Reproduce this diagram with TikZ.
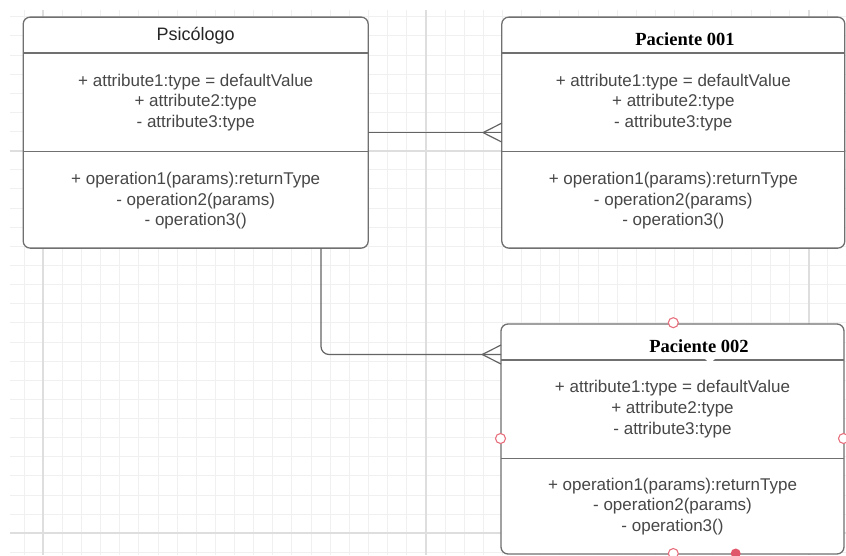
\documentclass[tikz,border=0pt]{standalone}
\usepackage{fontspec}
\setmainfont{Liberation Sans}
\newfontfamily\serifbf{Liberation Serif}
\usetikzlibrary{calc}
\definecolor{gridminor}{HTML}{F0F0F0}
\definecolor{gridmajor}{HTML}{DEDEDE}
\definecolor{boxline}{HTML}{707070}
\definecolor{linkline}{HTML}{646464}
\definecolor{txtgray}{HTML}{474747}
\definecolor{handlered}{HTML}{E8707E}
\definecolor{handlefill}{HTML}{E0566A}
\begin{document}
\begin{tikzpicture}[x=1pt,y=-1pt,
  classbox/.style={draw=boxline, line width=1.3pt, fill=white, rounded corners=7pt, inner sep=0pt, outer sep=0pt},
  divider/.style={draw=boxline, line width=1.3pt},
  link/.style={draw=linkline, line width=1.2pt},
  member/.style={font=\fontsize{17}{20.7}\selectfont, text=txtgray, align=center, inner sep=0pt, anchor=base},
  sanstitle/.style={font=\fontsize{18}{21}\selectfont, text=black!85, inner sep=0pt, anchor=base},
  seriftitle/.style={font=\serifbf\bfseries\fontsize{18.5}{22}\selectfont, text=black, inner sep=0pt, anchor=base},
  handle/.style={circle, draw=handlered, line width=1.1pt, fill=white, minimum size=10pt, inner sep=0pt},
  handlefilled/.style={circle, fill=handlefill, minimum size=10pt, inner sep=0pt},
]
\useasboundingbox (0,0) rectangle (846,555);
\fill[white] (0,0) rectangle (846,555);
% grid
\begin{scope}
\clip (10,10) rectangle (846,555);
\foreach \k in {-2,...,42} {\draw[gridminor, line width=1pt] ({43.3+\k*19.13},0) -- ({43.3+\k*19.13},555);}
\foreach \k in {-28,...,2} {\draw[gridminor, line width=1pt] (0,{533.3+\k*19.13}) -- (846,{533.3+\k*19.13});}
\foreach \k in {0,20,40} {\draw[gridmajor, line width=2pt] ({43.3+\k*19.13},0) -- ({43.3+\k*19.13},555);}
\foreach \k in {0,-20} {\draw[gridmajor, line width=2pt] (0,{533.3+\k*19.13}) -- (846,{533.3+\k*19.13});}
\end{scope}
% boxes
\node[classbox, minimum width=345pt, minimum height=231pt] (psi) at (195.7,132.6) {};
\node[classbox, minimum width=343pt, minimum height=231pt] (p1) at (673.3,132.6) {};
\node[classbox, minimum width=343pt, minimum height=230pt] (p2) at (672.5,439) {};
\foreach \b in {psi,p1,p2} {
  \draw[divider] ([yshift=-36pt]\b.north west) -- ([yshift=-36pt]\b.north east);
  \draw[divider] ([yshift=-134.5pt]\b.north west) -- ([yshift=-134.5pt]\b.north east);
}
% small notch under the Paciente 002 title
\fill[white] (704,358.2) -- (716,358.2) -- (712,361.5) -- (708,361.5) -- cycle;
% connectors
\draw[link] (psi.east) -- (p1.west);
\draw[link] ($(p1.west)+(-18.7,0)$) -- ($(p1.west)+(0,-9.5)$);
\draw[link] ($(p1.west)+(-18.7,0)$) -- ($(p1.west)+(0,9.5)$);
\coordinate (bend) at (321,354.5);
\draw[link, rounded corners=8pt] (bend |- psi.south) -- (bend) -- (bend -| p2.west);
\coordinate (p2in) at (bend -| p2.west);
\draw[link] ($(p2in)+(-18.7,0)$) -- ($(p2in)+(0,-9.5)$);
\draw[link] ($(p2in)+(-18.7,0)$) -- ($(p2in)+(0,9.5)$);
% texts (base anchor = baseline of the last line)
\node[sanstitle] (psiT) at (195.7,40) {Psicólogo};
\node[member] (psiA) at (195.7,127.4) {+ attribute1:type = defaultValue\\+ attribute2:type\\- attribute3:type};
\node[member] (psiO) at (195.7,225.7) {+ operation1(params):returnType\\- operation2(params)\\- operation3()};
\node[seriftitle] (p1T) at (685,45.7) {Paciente 001};
\node[member] (p1A) at (673.3,127.4) {+ attribute1:type = defaultValue\\+ attribute2:type\\- attribute3:type};
\node[member] (p1O) at (673.3,225.7) {+ operation1(params):returnType\\- operation2(params)\\- operation3()};
\node[seriftitle] (p2T) at (699,352.3) {Paciente 002};
\node[member] (p2A) at (672.5,434.1) {+ attribute1:type = defaultValue\\+ attribute2:type\\- attribute3:type};
\node[member] (p2O) at (672.5,531.4) {+ operation1(params):returnType\\- operation2(params)\\- operation3()};
% selection handles
\node[handle] (hT) at (673.3,322.7) {};
\node[handle] (hL) at (500.5,438.5) {};
\node[handle] (hR) at (843.5,438.5) {};
\node[handle] (hB) at (673.3,553.5) {};
\node[handlefilled] (hB2) at (735.7,553.5) {};
\end{tikzpicture}
\end{document}
